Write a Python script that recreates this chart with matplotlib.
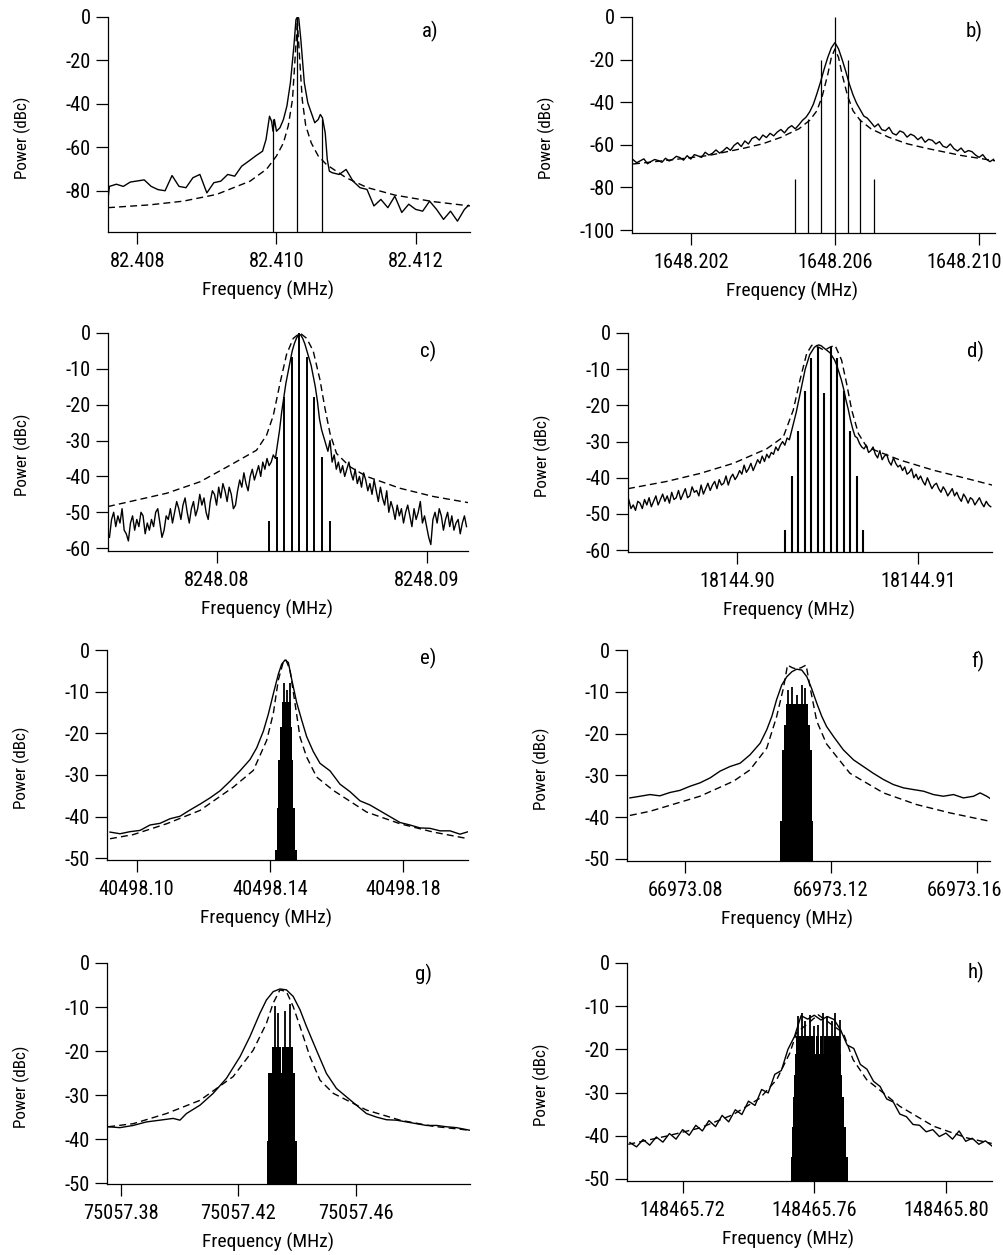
"""
Eight-panel spectrum figure: measured sideband spectra (solid), fitted
line shapes (dashed) and comb lines (sticks / filled blocks).
"""
import numpy as np
import matplotlib
matplotlib.use("Agg")  # headless
import matplotlib.pyplot as plt
from matplotlib import font_manager


# === Data (frequencies are offsets in kHz from each panel's reference) ===

# a) reference 82.410 MHz
a_f0 = 82.410
a_trace_khz = [-2.42, -2.40, -2.3, -2.2, -2.1, -2.0, -1.9, -1.8, -1.7, -1.6, -1.5, -1.4,
               -1.3, -1.2, -1.1, -1.0, -0.9, -0.8, -0.7, -0.6, -0.5, -0.4, -0.3, -0.2,
               -0.15, -0.1, -0.07, -0.05, -0.03, 0.0, 0.05, 0.1, 0.15, 0.2, 0.25, 0.28,
               0.30, 0.32, 0.35, 0.4, 0.45, 0.5, 0.55, 0.6, 0.63, 0.66, 0.7, 0.73, 0.76,
               0.8, 0.9, 1.0, 1.1, 1.2, 1.3, 1.4, 1.5, 1.6, 1.7, 1.8, 1.9, 2.0, 2.1, 2.2,
               2.3, 2.4, 2.5, 2.6, 2.7, 2.76]
a_trace_db = [-84, -78, -77, -78, -76, -75.5, -75, -78, -79.5, -80, -73, -78, -78.6, -74,
              -72.5, -81, -76.3, -75.6, -72.5, -73.3, -68.7, -66.4, -64, -61.8, -56.4,
              -45.7, -48, -52.6, -47.2, -52.6, -51, -47.2, -41, -30.3, -13.5, -1.2, 0,
              -0.5, -10.4, -30.3, -39.5, -44.1, -48.7, -47.2, -44.9, -46.4, -53.3, -65.6,
              -71, -71.7, -72.5, -70.2, -75.6, -78.6, -79.4, -87, -84, -87.8, -82.5, -90,
              -86.2, -88.6, -89.4, -84.8, -88.6, -93.2, -89.4, -94, -88.6, -86.7]
a_fit_khz = [-2.42, -1.82, -1.34, -0.86, -0.38, -0.14, 0.0, 0.10, 0.17, 0.23, 0.26, 0.29,
             0.30, 0.31, 0.34, 0.37, 0.42, 0.5, 0.6, 0.72, 1.0, 1.3, 1.7, 2.25, 2.78]
a_fit_db = [-87.8, -86.5, -84.8, -81.7, -75.6, -70, -64, -58, -50, -38, -22.7, -7.4, -1,
            -7.4, -22.7, -38, -50, -58, -64, -68, -74, -78.5, -82, -85, -87]
a_stick_khz = [-0.05, 0.30, 0.65]
a_stick_db = [-47, 0, -47]

# b) reference 1648.206 MHz, trace sampled every 0.1 kHz from -5.6 to 4.4
b_f0 = 1648.206
b_trace_db = [-67.0, -68.4, -67.5, -66.6, -68.9, -67.8, -66.9, -67.4, -68.2, -66.3,
              -67.6, -66.8, -65.4, -66.0, -67.2, -65.1, -66.7, -64.6, -65.2, -65.9,
              -63.5, -64.8, -64.0, -62.4, -63.9, -62.8, -61.2, -62.6, -60.3, -59.0,
              -60.8, -58.2, -59.6, -57.0, -56.2, -57.8, -55.4, -56.6, -54.6, -55.8,
              -54.0, -52.8, -54.4, -52.2, -51.0, -52.5, -50.6,
              -48.5, -47.0, -44.5, -41.0, -36.0, -30.5, -24.5, -19.0, -14.5, -12.0,
              -15.0, -20.0, -25.5, -31.5, -36.5, -40.5, -43.5, -46.5, -47.5,
              -49.5, -51.6, -50.2, -52.9, -53.4, -51.8, -54.6, -55.4, -53.5, -54.2,
              -56.4, -55.0, -55.8, -57.6, -56.3, -58.8, -57.4, -57.9, -59.6, -58.5,
              -60.7, -61.3, -59.6, -61.8, -62.9, -61.5, -63.6, -62.7, -63.2, -64.8,
              -65.9, -64.6, -66.8, -67.9, -66.8]
b_trace_span = (-5.6, 4.4)
b_fit_khz = [-5.6, -4.5, -3.5, -2.5, -2.0, -1.5, -1.0, -0.7, -0.5, -0.35, -0.2, -0.1, 0.0,
             0.1, 0.2, 0.35, 0.5, 0.7, 1.0, 1.5, 2.0, 2.5, 3.5, 4.44]
b_fit_db = [-69, -67, -65, -61.5, -59.5, -56.5, -52.5, -48.5, -44, -37, -27, -19, -15, -19,
            -27, -37, -44, -48.5, -52.5, -56.5, -59.5, -61.5, -65, -67.5]
b_stick_khz = [-1.1, -0.74, -0.38, 0.0, 0.36, 0.70, 1.07]
b_stick_db = [-76, -48, -20, 0, -20, -48, -76]

# c) reference 8248.08 MHz, trace every 0.1 kHz from -5.1 to 11.9
c_f0 = 8248.08
c_trace_db = [-57, -52, -50, -54, -51, -53, -49, -55, -56, -58,
              -53, -51, -55, -52, -54, -50, -51, -56, -53, -55,
              -52, -54, -50, -49, -53, -57, -55, -51, -52, -49,
              -53, -50, -47, -49, -52, -48, -46, -50, -53, -49,
              -47, -51, -49, -45, -48, -46, -50, -52, -47, -44,
              -45, -48, -43, -46, -42, -44, -47, -43, -45, -49,
              -48, -44, -41, -43, -39, -42, -44, -40, -38, -41,
              -39, -37, -40, -36, -38, -35, -37, -36, -34, -35,
              -31, -27, -22, -18, -14, -11, -8, -5, -3, -1.5,
              -0.5, -0.5, -1.5, -3, -5, -7, -9, -12, -15, -19,
              -24, -27, -29, -31, -33, -30, -36, -34, -38, -36,
              -39, -37, -40, -38, -36, -39, -41, -38, -42, -40,
              -43, -39, -41, -44, -42, -45, -41, -44, -47, -43,
              -46, -48, -44, -50, -47, -49, -52, -48, -51, -49,
              -53, -50, -48, -51, -54, -49, -52, -50, -47, -53,
              -51, -54, -57, -59, -52, -50, -53, -49, -51, -55,
              -52, -50, -54, -51, -55, -53, -52, -56, -53, -51,
              -54]
c_trace_span = (-5.1, 11.9)
c_fit_khz = [-5.17, -2.38, -0.79, 0.79, 1.90, 2.38, 2.70, 3.02, 3.33, 3.65, 3.97, 4.29,
             4.60, 4.92, 5.16, 5.40, 5.71, 6.35, 7.14, 8.73, 10.32, 11.97]
c_fit_db = [-48.4, -44.7, -41.5, -36.4, -32.7, -28.5, -23, -14, -6, -1.5, 0, -1.5, -5, -13,
            -21, -28, -33.6, -37.3, -40, -43.3, -45.6, -47.3]
c_stick_khz = [2.50, 2.86, 3.22, 3.58, 3.94, 4.30, 4.66, 5.02, 5.38]
c_stick_db = [-52.5, -34.5, -17.8, -6.6, 0, -6.6, -17.8, -34.5, -52.5]

# d) reference 18144.90 MHz, trace every 0.125 kHz from -6 to 14
d_f0 = 18144.90
d_trace_db = [-46, -48.5, -47.5, -49, -46.5, -47, -48.5, -46,
              -47.5, -45.5, -48, -46.5, -45, -47.5, -46, -44.5,
              -46.5, -45, -47, -44, -46, -45.5, -43.5, -46,
              -44.5, -43, -45.5, -45, -42.5, -44, -43.5, -45,
              -42, -44.5, -43, -41.5, -43.5, -42, -41, -43,
              -40.5, -42, -41.5, -39.5, -42, -40, -39, -40.5,
              -39.5, -38, -39, -36.5, -38.5, -37.5, -36, -38,
              -36.5, -35, -36, -34, -35.5, -33.5, -34.5, -33,
              -33.5, -31.5, -32.5, -31, -30, -31, -29, -29.5,
              -27, -24.5, -22, -19, -16, -13, -10, -8,
              -6, -5, -4, -3.5, -3.3, -3.5, -4, -4.5,
              -5, -5.5, -6.5, -7.5, -9, -11, -13, -15.5,
              -18.5, -21, -24, -26.5, -28.5, -29, -30.5, -31.5,
              -32, -31, -33, -32.5, -31.5, -33.5, -34.5, -32.5,
              -35, -34, -33.5, -35.5, -36.5, -34.5, -36, -37,
              -36.5, -38, -37, -39, -38.5, -37.5, -40, -39,
              -40.5, -39.5, -41, -42, -40, -41.5, -43, -42,
              -41.5, -43, -44, -42.5, -43.5, -45, -44, -43,
              -45, -44, -45.5, -46.5, -44.5, -45.5, -47, -45.5,
              -46, -47.5, -46.5, -45.5, -47, -48, -46.5, -47.5,
              -48]
d_trace_span = (-6.0, 14.0)
d_fit_khz = [-6.04, -3.90, -2.06, -0.22, 1.62, 2.54, 3.09, 3.46, 3.83, 4.11, 4.48, 4.81,
             5.12, 5.40, 5.76, 6.04, 6.32, 6.69, 7.15, 8.99, 10.83, 12.67, 14.07]
d_fit_db = [-43, -41, -38.8, -36, -32, -28.7, -21.3, -13, -5.7, -3.4, -3.9, -4.8, -3.9,
            -3.4, -7.5, -14, -21.3, -27.8, -31.5, -35.1, -37.9, -40.2, -42]
d_stick_khz = [2.65, 3.01, 3.37, 3.73, 4.09, 4.45, 4.81, 5.17, 5.53, 5.89, 6.25, 6.61, 6.97]
d_stick_db = [-54.5, -39.5, -27, -16, -7, -4, -16.5, -4, -7, -16, -27, -39.5, -54.5]

# e) reference 40498.10 MHz
e_f0 = 40498.10
e_trace_khz = [-8.0, -5.0, -2.0, 1.0, 4.0, 7.0, 10.0, 13.0, 16.0, 19.0, 22.0, 25.0, 28.0,
               31.0, 34.0, 36.0, 38.0, 39.5, 41.0, 42.5, 43.5, 44.5, 45.5, 46.5, 48.0,
               49.5, 51.0, 53.0, 55.0, 58.0, 61.0, 64.0, 67.0, 70.0, 73.0, 76.0, 79.0,
               82.0, 85.0, 88.0, 91.0, 94.0, 97.0, 99.5]
e_trace_db = [-43.7, -44.1, -43.6, -43.3, -42.0, -41.6, -40.5, -39.9, -38.4, -37.0, -35.5,
              -33.8, -31.5, -29.0, -26.3, -23.5, -19.5, -15.4, -10.5, -5.8, -3.4, -2.4,
              -3.0, -7.0, -12.6, -16.8, -20.8, -24.4, -27.2, -29.0, -32.2, -34.0, -36.2,
              -37.2, -38.6, -40.0, -41.4, -42.0, -42.7, -42.8, -43.4, -43.4, -44.2, -43.6]
e_fit_khz = [-8, -1, 9, 19, 29, 35, 39, 41, 42.5, 44, 44.8, 46, 47.5, 49, 51, 54, 59, 69,
             79, 89, 99.5]
e_fit_db = [-45.3, -44.3, -41.7, -38.5, -32.9, -28.9, -21.7, -15.2, -7.2, -2.8, -2.4, -4.8,
            -12.8, -20.9, -25.7, -30.5, -33.7, -38.9, -41.7, -43.7, -45.3]
e_block_lo = [41.5, 42.1, 42.4, 43.0, 43.6]
e_block_hi = [48.1, 47.5, 46.9, 46.6, 46.3]
e_block_db = [-48, -38, -26.5, -18.5, -12.5]
e_spike_khz = [44.3, 45.2, 46.0]
e_spike_db = [-8, -9.5, -8]

# f) reference 66973.08 MHz
f_f0 = 66973.08
f_trace_khz = [-15.1, -12.3, -9.6, -6.9, -4.1, -1.4, 1.4, 4.1, 6.9, 9.6, 12.3, 15.1, 17.8,
               20.6, 22.4, 23.8, 25.1, 26.5, 27.9, 29.3, 30.6, 32.0, 33.4, 34.7, 36.1,
               37.5, 38.8, 40.7, 43.4, 46.2, 48.9, 51.6, 54.4, 57.1, 59.9, 62.6, 65.4,
               68.1, 70.8, 73.6, 76.3, 79.1, 80.9, 82.7, 84.1]
f_trace_db = [-35.4, -35.0, -34.6, -34.9, -34.1, -33.6, -32.6, -31.8, -30.6, -29.0, -27.9,
              -27.1, -25.1, -22.3, -19.1, -15.9, -11.9, -8.4, -6.4, -5.2, -4.6, -4.8, -6.4,
              -9.2, -12.7, -15.9, -18.3, -20.7, -23.9, -26.3, -27.9, -29.5, -31.0, -32.2,
              -33.0, -33.4, -33.8, -34.6, -35.0, -34.6, -35.4, -35.0, -34.2, -35.0, -35.8]
f_fit_khz = [-15.1, -9.6, -5.0, 4.1, 13.3, 17.8, 22.4, 25.1, 27.0, 28.1, 29.3, 30.6, 31.9,
             33.2, 34.3, 36.1, 38.8, 45.2, 54.4, 63.5, 72.7, 83.6]
f_fit_db = [-39.6, -38.6, -37.4, -35.0, -31.4, -28.7, -23.5, -16, -9, -3.6, -4.2, -4.6,
            -4.2, -3.6, -9, -17, -22.5, -29.5, -34.2, -37, -39, -41]
f_block_lo = [26.0, 26.6, 27.1, 27.7]
f_block_hi = [35.1, 34.8, 34.3, 33.7]
f_block_db = [-41, -24, -18, -13]
f_spike_khz = [28.3, 29.2, 30.6, 32.0, 32.9]
f_spike_db = [-9.6, -8.8, -10.8, -8.4, -9.1]

# g) reference 75057.38 MHz
g_f0 = 75057.38
g_trace_khz = [-4.2, -0.2, 4.3, 8.8, 13.4, 17.9, 20.2, 22.4, 27.0, 31.5, 36.0, 40.6, 44.0,
               47.4, 49.6, 51.9, 54.2, 56.4, 58.7, 61.0, 63.2, 66.6, 70.0, 73.4, 76.8,
               80.2, 83.6, 87.0, 90.4, 93.8, 97.2, 100.6, 104.0, 107.4, 110.8, 114.2, 118.8]
g_trace_db = [-37.2, -37.4, -36.9, -36.1, -35.7, -35.3, -35.7, -34.2, -32.3, -29.6, -26.2,
              -21.3, -16.7, -11.4, -8.4, -6.5, -5.9, -6.1, -7.6, -10.6, -14.4, -19.8, -25.1,
              -28.5, -30.4, -32.3, -34.2, -35.0, -35.6, -35.7, -36.1, -36.5, -36.9, -36.9,
              -37.2, -37.4, -38.0]
g_fit_khz = [-4.2, 4.3, 15.6, 27.0, 38.3, 45.1, 49.6, 51.9, 54.2, 56.4, 58.7, 61.0, 64.4,
             67.8, 72.3, 83.6, 95.0, 106.3, 118.8]
g_fit_db = [-37.2, -36.5, -34.2, -31.2, -25.8, -19.8, -13.7, -9.1, -6.1, -6.5, -9.9, -14.4,
            -21.3, -26.6, -29.6, -33.4, -35.7, -37.1, -38.0]
g_block_lo = [49.7, 50.0, 51.4, 55.0]
g_block_hi = [59.9, 59.2, 54.6, 58.5]
g_block_db = [-40.5, -25, -19, -19]
g_spike_khz = [52.4, 53.5, 55.8, 57.5]
g_spike_db = [-9.8, -11.3, -10.9, -9.4]

# h) reference 148465.72 MHz, trace every 2 kHz from -16 to 94
h_f0 = 148465.72
h_trace_db = [-41.6, -42.6, -40.9, -42.2, -40.3, -41.5, -39.5, -40.8, -38.6, -39.9, -37.6,
              -38.9, -36.5, -37.9, -35.3, -36.8, -34.0, -35.1, -32.0, -33.0, -29.3, -30.1,
              -25.8, -24.9, -20.0, -17.0,
              -12.2, -13.0, -12.1, -13.2, -12.4, -13.1, -15.5, -19.0, -19.8, -23.5, -24.6,
              -27.4, -28.6, -31.5, -32.2, -35.0, -35.6, -37.4, -37.6, -39.1, -38.6, -40.2,
              -39.4, -40.8, -38.9, -41.3, -40.6, -42.0, -41.2, -42.4]
h_trace_span = (-16.0, 94.0)
h_fit_khz = [-16.5, -4.9, 5.3, 15.4, 23.5, 28.6, 32.6, 34.6, 41.2, 48.8, 51.8, 55.9, 61.0,
             66.0, 76.2, 86.3, 93.9]
h_fit_db = [-42, -40.1, -38.2, -35.1, -31.3, -27, -20.8, -16.2, -12, -16.2, -22.4, -27,
            -30.1, -33.2, -37.8, -40.5, -41.8]
h_block_lo = [32.9, 33.2, 33.5, 33.9, 34.1, 34.3, 40.5, 41.8, 43.0]
h_block_hi = [50.2, 49.5, 48.9, 48.5, 48.2, 40.1, 41.4, 42.6, 47.9]
h_block_db = [-45, -38, -31, -26, -21, -17, -17, -17, -17]
h_spike_khz = [35.2, 36.2, 37.2, 38.6, 39.8, 41.1, 42.7, 43.9, 45.4, 46.4, 47.7]
h_spike_db = [-12.3, -11.6, -13.5, -12.0, -14.7, -14.3, -11.6, -12.3, -13.5, -11.6, -13.1]


# === Style ===

FIG_W, FIG_H = 1004, 1255
DASH = (0, (5, 3))
TICK_LEN, TICK_PAD = 8.5, 6

# prefer a narrow sans (the original uses an Arial-Narrow-like face)
_entries = font_manager.fontManager.ttflist
_names = {f.name for f in _entries}
FONT, STRETCH = "Liberation Sans", "normal"
for _cand in ("Liberation Sans Narrow", "Arial Narrow", "Roboto Condensed",
              "Open Sans Condensed", "Noto Sans Condensed"):
    if _cand in _names:
        FONT = _cand
        break
else:
    for _f in _entries:
        if (_f.name in ("Noto Sans", "Open Sans", "Roboto")
                and str(_f.stretch) in ("condensed", "semi-condensed")
                and str(_f.style) == "normal" and str(_f.weight) in ("400", "normal")):
            FONT, STRETCH = _f.name, str(_f.stretch)
            break
plt.rcParams["font.family"] = [FONT, "DejaVu Sans"]
plt.rcParams["font.stretch"] = STRETCH
plt.rcParams["axes.unicode_minus"] = False

fig = plt.figure(figsize=(FIG_W / 100, FIG_H / 100), dpi=100)
_renderer = fig.canvas.get_renderer()


def _size_for(text, target_px):
    t = fig.text(0, 0, text, fontsize=10)
    w = t.get_window_extent(_renderer).width
    t.remove()
    return 10.0 * target_px / w


TICK_FS = min(_size_for("82.408", 55), 15.5)
XLAB_FS = min(_size_for("Frequency (MHz)", 131), 15.5)
YLAB_FS = min(_size_for("Power (dBc)", 83), 14)
TAG_FS = min(_size_for("a)", 17), 15)


def _axes_px(left, top, right, bottom):
    return fig.add_axes([left / FIG_W, 1 - bottom / FIG_H,
                         (right - left) / FIG_W, (bottom - top) / FIG_H])


def _panel(box, f0, trace, fit, xlim_khz, ylim, xticks, xfmt, yticks, tag, tag_xy,
           sticks=None, blocks=None, spikes=None, stick_lw=0.8):
    left, top, right, bottom = box
    ax = _axes_px(left, top, right, bottom)
    mhz = lambda khz: f0 + np.asarray(khz, dtype=float) / 1000.0
    ymin = ylim[0]

    if blocks is not None:
        lo, hi, lvl = (np.asarray(v, dtype=float) for v in blocks)
        ax.bar(mhz((lo + hi) / 2), lvl - ymin, width=(hi - lo) / 1000.0, bottom=ymin,
               color="black", linewidth=0, align="center")
    if spikes is not None:
        ax.vlines(mhz(spikes[0]), ymin, spikes[1], colors="black", linewidth=1.3)
    if sticks is not None:
        ax.vlines(mhz(sticks[0]), ymin, sticks[1], colors="black", linewidth=stick_lw)

    ax.plot(mhz(fit[0]), fit[1], color="black", linewidth=1.0, linestyle=DASH)
    ax.plot(mhz(trace[0]), trace[1], color="black", linewidth=1.0)

    ax.set_xlim(mhz(xlim_khz[0]), mhz(xlim_khz[1]))
    ax.set_ylim(*ylim)
    ax.set_xticks(xticks, [xfmt.format(v) for v in xticks])
    ax.set_yticks(yticks, [str(int(v)) for v in yticks])
    for side in ("top", "right"):
        ax.spines[side].set_visible(False)
    for side in ("left", "bottom"):
        ax.spines[side].set_linewidth(0.9)
    ax.tick_params(axis="both", direction="out", length=TICK_LEN, width=0.9,
                   labelsize=TICK_FS)
    ax.tick_params(axis="x", pad=TICK_PAD)
    ax.tick_params(axis="y", pad=4)

    w, h = right - left, bottom - top
    ax.text(0.5 - 21 / w, -58 / h, "Frequency (MHz)", transform=ax.transAxes,
            ha="center", va="center", fontsize=XLAB_FS)
    ax.text(-86 / w, 0.5 - 13 / h, "Power (dBc)", transform=ax.transAxes, rotation=90,
            ha="center", va="center", fontsize=YLAB_FS)
    ax.text(tag_xy[0], tag_xy[1], tag, transform=ax.transAxes, ha="center", va="center",
            fontsize=TAG_FS)
    return ax


# === Panels ===

axes = []
axes.append(_panel((108, 17, 470, 232), a_f0, (a_trace_khz, a_trace_db), (a_fit_khz, a_fit_db),
                   (-2.42, 2.78), (-99, 0), [82.408, 82.410, 82.412], "{:.3f}",
                   [0, -20, -40, -60, -80], "a)", (0.89, 0.935),
                   sticks=(a_stick_khz, a_stick_db), stick_lw=0.9))

b_trace_khz = np.linspace(b_trace_span[0], b_trace_span[1], len(b_trace_db))
axes.append(_panel((632, 17, 995, 233), b_f0, (b_trace_khz, b_trace_db), (b_fit_khz, b_fit_db),
                   (-5.63, 4.44), (-101.4, 0), [1648.202, 1648.206, 1648.210], "{:.3f}",
                   [0, -20, -40, -60, -80, -100], "b)", (0.942, 0.935),
                   sticks=(b_stick_khz, b_stick_db), stick_lw=0.9))

c_trace_khz = np.linspace(c_trace_span[0], c_trace_span[1], len(c_trace_db))
axes.append(_panel((108, 333, 468, 551), c_f0, (c_trace_khz, c_trace_db), (c_fit_khz, c_fit_db),
                   (-5.17, 11.97), (-60.8, 0), [8248.08, 8248.09], "{:.2f}",
                   [0, -10, -20, -30, -40, -50, -60], "c)", (0.89, 0.917),
                   sticks=(c_stick_khz, c_stick_db), stick_lw=1.4))

d_trace_khz = np.linspace(d_trace_span[0], d_trace_span[1], len(d_trace_db))
axes.append(_panel((628, 333, 992, 552), d_f0, (d_trace_khz, d_trace_db), (d_fit_khz, d_fit_db),
                   (-6.04, 14.07), (-60.5, 0), [18144.90, 18144.91], "{:.2f}",
                   [0, -10, -20, -30, -40, -50, -60], "d)", (0.956, 0.917),
                   sticks=(d_stick_khz, d_stick_db), stick_lw=1.5))

axes.append(_panel((107, 650, 468, 860), e_f0, (e_trace_khz, e_trace_db), (e_fit_khz, e_fit_db),
                   (-8.9, 99.4), (-50.4, 0), [40498.10, 40498.14, 40498.18], "{:.2f}",
                   [0, -10, -20, -30, -40, -50], "e)", (0.889, 0.96),
                   blocks=(e_block_lo, e_block_hi, e_block_db),
                   spikes=(e_spike_khz, e_spike_db)))

axes.append(_panel((627, 650, 990, 861), f_f0, (f_trace_khz, f_trace_db), (f_fit_khz, f_fit_db),
                   (-15.9, 83.6), (-50.5, 0), [66973.08, 66973.12, 66973.16], "{:.2f}",
                   [0, -10, -20, -30, -40, -50], "f)", (0.967, 0.948),
                   blocks=(f_block_lo, f_block_hi, f_block_db),
                   spikes=(f_spike_khz, f_spike_db)))

axes.append(_panel((107, 963, 470, 1184), g_f0, (g_trace_khz, g_trace_db), (g_fit_khz, g_fit_db),
                   (-4.6, 118.8), (-50.2, 0), [75057.38, 75057.42, 75057.46], "{:.2f}",
                   [0, -10, -20, -30, -40, -50], "g)", (0.873, 0.946),
                   blocks=(g_block_lo, g_block_hi, g_block_db),
                   spikes=(g_spike_khz, g_spike_db)))

h_trace_khz = np.linspace(h_trace_span[0], h_trace_span[1], len(h_trace_db))
axes.append(_panel((627, 963, 992, 1181), h_f0, (h_trace_khz, h_trace_db), (h_fit_khz, h_fit_db),
                   (-16.9, 94.0), (-50.5, 0), [148465.72, 148465.76, 148465.80], "{:.2f}",
                   [0, -10, -20, -30, -40, -50], "h)", (0.956, 0.958),
                   blocks=(h_block_lo, h_block_hi, h_block_db),
                   spikes=(h_spike_khz, h_spike_db)))

# tick labels that would run off the right edge are slid left, as in the original
fig.canvas.draw()
for ax in axes:
    ticks = ax.get_xticks()
    labels = ax.get_xticklabels()
    for tick, lab in zip(ticks, labels):
        bb = lab.get_window_extent(_renderer)
        over = bb.x1 - (FIG_W - 2)
        if over > 0:
            lab.set_visible(False)
            ax.annotate(lab.get_text(), xy=(tick, 0), xycoords=("data", "axes fraction"),
                        xytext=(-over * 0.72, -(TICK_LEN + TICK_PAD)),
                        textcoords="offset points", ha="center", va="top",
                        fontsize=TICK_FS, annotation_clip=False)

fig.savefig("out.png", dpi=100)
plt.close(fig)
